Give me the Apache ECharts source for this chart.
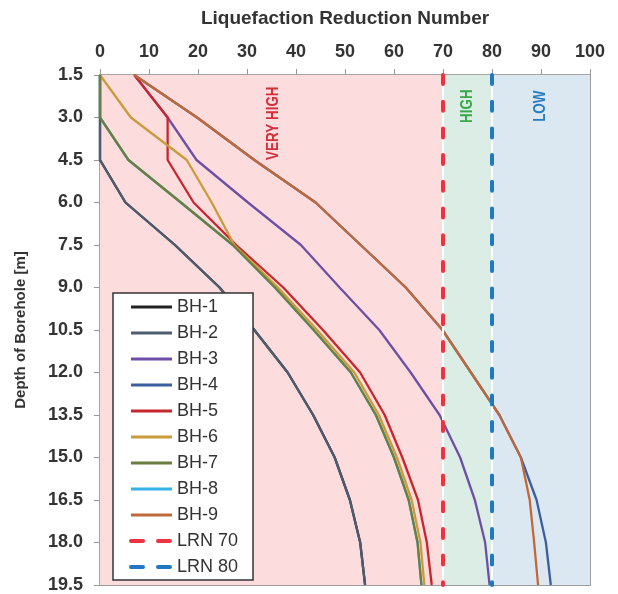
<!DOCTYPE html>
<html>
<head>
<meta charset="utf-8">
<script src="https://cdn.jsdelivr.net/npm/echarts@6/dist/echarts.min.js"></script>
<style>
    html, body { margin: 0; padding: 0; background: #fff; }
    #id-div-chart { width: 618px; height: 594px; }
</style>
</head>
<body>
<div id="id-div-chart"></div>
<script>
var log = console.log.bind(console)

var e = (selector) => document.querySelector(selector)

// depth of each reading, m
var depths = [1.5, 3.0, 4.5, 6.0, 7.5, 9.0, 10.5, 12.0, 13.5, 15.0, 16.5, 18.0, 19.5]

// LRN for each borehole
var bh1 = [0, 0, 0, 5.2, 15.3, 24.4, 31.5, 38.3, 43.5, 47.9, 51.0, 53.1, 54.1]
var bh2 = [0, 0, 0, 5.2, 15.3, 24.4, 31.5, 38.3, 43.5, 47.9, 51.0, 53.1, 54.1]
var bh3 = [7.0, 13.8, 19.7, 30.2, 41.0, 48.9, 57.0, 63.4, 69.3, 73.5, 76.5, 78.6, 79.5]
var bh4 = [7.0, 19.8, 31.5, 44.0, 53.2, 62.4, 69.9, 75.7, 81.5, 85.9, 89.1, 91.0, 92.0]
var bh5 = [7.0, 13.8, 13.8, 19.1, 27.8, 37.4, 45.5, 53.1, 58.1, 61.7, 64.9, 66.7, 67.7]
var bh6 = [0, 6.3, 17.7, 22.8, 27.4, 36.3, 44.3, 51.9, 56.9, 60.6, 63.6, 65.4, 66.2]
var bh7 = [0, 0, 5.8, 16.5, 27.1, 35.7, 43.6, 51.2, 56.3, 60.0, 63.0, 64.8, 65.6]
var bh8 = [0, 0, 5.8, 16.5, 27.1, 35.7, 43.6, 51.2, 56.3, 60.0, 63.0, 64.8, 65.6]
var bh9 = [7.0, 19.8, 31.5, 44.0, 53.2, 62.4, 69.9, 75.7, 81.5, 85.9, 87.7, 88.6, 89.4]

var boreholeNames = ['BH-1', 'BH-2', 'BH-3', 'BH-4', 'BH-5', 'BH-6', 'BH-7', 'BH-8', 'BH-9']
var boreholeValues = [bh1, bh2, bh3, bh4, bh5, bh6, bh7, bh8, bh9]
var boreholeColors = ['#222222', '#4d5c70', '#6d4fa8', '#3b5e9e', '#c8262f', '#c99b3b', '#6a7e3f', '#35b1e6', '#bf693a']

// limit lines
var limitNames = ['LRN 70', 'LRN 80']
var limitValues = [70, 80]
var limitColors = ['#ee3340', '#1f78c1']

// zones between the limits
var zoneEdges = [0, 70, 80, 100]
var zoneNames = ['VERY HIGH', 'HIGH', 'LOW']
var zoneColors = ['#fcdcdd', '#dbede4', '#dbe8f1']
var zoneTextColors = ['#d32f3b', '#3aa84a', '#2a7cc0']
var zoneTextDepths = [3.2, 2.6, 2.6]

var font = '"Liberation Sans", Arial, sans-serif'

var pairs = function(values) {
    return depths.map((d, i) => [values[i], d])
}

var zoneSeries = function() {
    var areas = []
    for (var i = 0; i < zoneNames.length; i++) {
        areas.push([
            {xAxis: zoneEdges[i], itemStyle: {color: zoneColors[i]}},
            {xAxis: zoneEdges[i + 1]},
        ])
    }
    return {
        name: 'zones',
        type: 'line',
        z: 0,
        silent: true,
        symbol: 'none',
        data: [[zoneEdges[0], depths[0]]],
        lineStyle: {opacity: 0},
        markArea: {
            silent: true,
            itemStyle: {opacity: 1},
            data: areas,
        },
        markLine: {
            silent: true,
            symbol: 'none',
            label: {show: false},
            lineStyle: {color: '#ffffff', width: 2, type: 'solid'},
            data: limitValues.map((v) => ({xAxis: v})),
        },
    }
}

var boreholeSeries = function() {
    var list = []
    for (var i = 0; i < boreholeNames.length; i++) {
        var hidden = boreholeNames[i] == 'BH-1' || boreholeNames[i] == 'BH-8'
        list.push({
            name: boreholeNames[i],
            type: 'line',
            z: hidden ? 1 : 2,
            symbol: 'none',
            color: boreholeColors[i],
            lineStyle: {width: 2.3, color: boreholeColors[i]},
            data: pairs(boreholeValues[i]),
        })
    }
    return list
}

var limitSeries = function() {
    return limitNames.map((n, i) => ({
        name: n,
        type: 'line',
        z: 5,
        symbol: 'none',
        color: limitColors[i],
        lineStyle: {width: 4, color: limitColors[i], type: [9, 17.7], cap: 'round'},
        data: [[limitValues[i], depths[0]], [limitValues[i], depths[depths.length - 1]]],
    }))
}

var legendData = function() {
    var list = boreholeNames.map((n) => ({name: n, lineStyle: {width: 3}}))
    limitNames.forEach((n) => {
        list.push({name: n, lineStyle: {width: 4, type: [12, 15], cap: 'round'}})
    })
    return list
}

var option = function() {
    var xBase = {
        type: 'value',
        position: 'top',
        min: 0,
        max: 100,
        interval: 10,
        splitLine: {show: false},
    }
    var yBase = {
        type: 'value',
        inverse: true,
        min: 1.5,
        max: 19.5,
        interval: 1.5,
        splitLine: {show: false},
    }
    var tickOut = {show: true, inside: false, length: 6, lineStyle: {color: '#999999'}}
    var tickIn = {show: true, inside: true, length: 6, lineStyle: {color: '#999999'}}
    return {
        animation: false,
        backgroundColor: '#ffffff',
        grid: {
            left: 100, top: 75, right: 28, bottom: 7,
            show: true,
            borderColor: '#7a7a7a',
            borderWidth: 1.5,
            backgroundColor: 'transparent',
        },
        legend: {
            orient: 'vertical',
            left: 113,
            top: 293,
            padding: [5, 15, 4, 16],
            itemWidth: 41,
            itemHeight: 14,
            itemGap: 8,
            itemStyle: {opacity: 0},
            backgroundColor: '#ffffff',
            borderColor: '#333333',
            borderWidth: 1.5,
            borderRadius: 0,
            textStyle: {fontSize: 18, color: '#333333', fontFamily: font},
            data: legendData(),
        },
        xAxis: [
            Object.assign({}, xBase, {
                name: 'Liquefaction Reduction Number',
                nameLocation: 'middle',
                nameGap: 47,
                nameTextStyle: {fontSize: 19, fontWeight: 'bold', color: '#333333', fontFamily: font},
                axisLine: {show: true, lineStyle: {color: '#aaaaaa', width: 1.5}},
                axisTick: tickOut,
                axisLabel: {margin: 14, fontSize: 18, fontWeight: 'bold', color: '#333333', fontFamily: font},
            }),
            Object.assign({}, xBase, {
                axisLine: {show: false},
                axisTick: tickIn,
                axisLabel: {show: false},
            }),
        ],
        yAxis: [
            Object.assign({}, yBase, {
                name: 'Depth of Borehole [m]',
                nameLocation: 'middle',
                nameGap: 72,
                nameRotate: 90,
                nameTextStyle: {fontSize: 15, fontWeight: 'bold', color: '#333333', fontFamily: font},
                axisLine: {show: true, lineStyle: {color: '#aaaaaa', width: 1.5}},
                axisTick: tickOut,
                axisLabel: {
                    margin: 17, fontSize: 18, fontWeight: 'bold', color: '#333333', fontFamily: font,
                    formatter: (v) => v.toFixed(1),
                },
            }),
            Object.assign({}, yBase, {
                axisLine: {show: false},
                axisTick: tickIn,
                axisLabel: {show: false},
            }),
        ],
        series: [zoneSeries()].concat(boreholeSeries(), limitSeries()),
    }
}

var zoneLabels = function(chart) {
    var list = []
    for (var i = 0; i < zoneNames.length; i++) {
        var mid = (zoneEdges[i] + zoneEdges[i + 1]) / 2
        if (i == 0) {
            mid = 35.4
        }
        var p = chart.convertToPixel({xAxisIndex: 0, yAxisIndex: 0}, [mid, zoneTextDepths[i]])
        list.push({
            type: 'text',
            x: p[0],
            y: p[1],
            rotation: Math.PI / 2,
            scaleX: 0.84,
            z: 10,
            silent: true,
            style: {
                text: zoneNames[i],
                fill: zoneTextColors[i],
                fontSize: 16,
                fontWeight: 'bold',
                fontFamily: font,
                align: 'center',
                verticalAlign: 'middle',
            },
        })
    }
    return list
}

var __main = function() {
    var chart = echarts.init(e('#id-div-chart'), null, {renderer: 'canvas'})
    chart.setOption(option())
    chart.setOption({graphic: zoneLabels(chart)})
}

__main()
</script>
</body>
</html>
